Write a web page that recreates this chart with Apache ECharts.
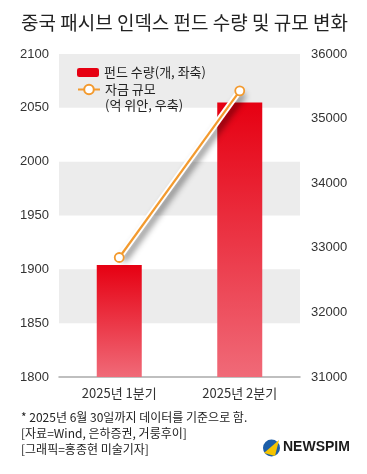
<!DOCTYPE html>
<html><head><meta charset="utf-8">
<script src="https://cdn.jsdelivr.net/npm/echarts@6/dist/echarts.min.js"></script>
<style>html,body{margin:0;padding:0;background:#fff}#c{width:367px;height:474px}</style>
</head><body><div id="c"></div>
<script>
const categories = ['2025년 1분기', '2025년 2분기'];
const fundCount = [1904, 2055];
const fundSize = [32850, 35430];
const leftTicks = [1800, 2100, 50];
const rightTicks = [31000, 36000, 1000];
const titleText = '중국 패시브 인덱스 펀드 수량 및 규모 변화';
const notes = ['* 2025년 6월 30일까지 데이터를 기준으로 함.', '[자료=Wind, 은하증권, 거룽후이]', '[그래픽=홍종현 미술기자]'];

const FONT = '"Noto Sans CJK KR", "Noto Sans", sans-serif';
const NUMFONT = '"Liberation Sans Narrow", "Liberation Sans", sans-serif';
const chart = echarts.init(document.getElementById('c'), null, {renderer: 'canvas'});
const orange = '#f39a2e';
chart.setOption({
  animation: false,
  textStyle: {fontFamily: FONT},
  grid: {left: 59, right: 67, top: 54, bottom: 97},
  legend: [{
    data: [{name: '펀드 수량(개, 좌축)', itemStyle: {color: '#e60012'}}], left: 77, top: 66, itemWidth: 22, itemHeight: 9,
    textStyle: {fontSize: 13, color: '#222', fontFamily: FONT}, padding: 0
  }, {
    data: ['자금 규모'], left: 77, top: 83, itemWidth: 22, itemHeight: 12,
    textStyle: {fontSize: 13, color: '#222', fontFamily: FONT}, padding: 0
  }],
  xAxis: {
    type: 'category', data: categories,
    axisLine: {lineStyle: {color: '#aaa', width: 1.5}},
    axisTick: {inside: true, length: 6, lineStyle: {color: '#aaa'}},
    axisLabel: {fontSize: 13, color: '#333', margin: 10, fontFamily: FONT}
  },
  yAxis: [{
    type: 'value', min: leftTicks[0], max: leftTicks[1], interval: leftTicks[2],
    axisLine: {show: false}, axisTick: {show: false}, splitLine: {show: false},
    splitArea: {show: true, areaStyle: {color: ['rgba(0,0,0,0)', '#ececec']}},
    axisLabel: {fontSize: 13, color: '#333', margin: 10, fontFamily: NUMFONT, formatter: v => String(v)}
  }, {
    type: 'value', min: rightTicks[0], max: rightTicks[1], interval: rightTicks[2],
    axisLine: {show: false}, axisTick: {show: false}, splitLine: {show: false},
    axisLabel: {fontSize: 13, color: '#333', margin: 11, fontFamily: NUMFONT, formatter: v => String(v)}
  }],
  series: [{
    name: '펀드 수량(개, 좌축)', type: 'bar', data: fundCount, barWidth: 45, yAxisIndex: 0,
    itemStyle: {color: new echarts.graphic.LinearGradient(0, 0, 0, 1, [
      {offset: 0, color: '#e60012'}, {offset: 1, color: '#f06a78'}])}
  }, {
    name: 'outline', type: 'line', data: fundSize, yAxisIndex: 1, symbol: 'none', silent: true,
    lineStyle: {color: '#fff', width: 6, shadowColor: 'rgba(0,0,0,0.45)', shadowBlur: 6, shadowOffsetX: 4, shadowOffsetY: 3}
  }, {
    name: '자금 규모', type: 'line', data: fundSize, yAxisIndex: 1,
    symbol: 'circle', symbolSize: 9,
    lineStyle: {color: orange, width: 2.2},
    itemStyle: {color: '#fff', borderColor: orange, borderWidth: 1.8}
  }],
  graphic: [
    {type: 'text', z: 100, left: 21, top: 13, style: {text: titleText, font: '19px ' + FONT, fill: '#222'}},
    {type: 'text', z: 100, left: 105, top: 99, style: {text: '(억 위안, 우축)', font: '13px ' + FONT, fill: '#222'}},
    {type: 'text', z: 100, left: 21, top: 411, style: {text: notes[0], font: '12px ' + FONT, fill: '#222'}},
    {type: 'text', z: 100, left: 21, top: 427, style: {text: notes[1], font: '12px ' + FONT, fill: '#222'}},
    {type: 'text', z: 100, left: 21, top: 443, style: {text: notes[2], font: '12px ' + FONT, fill: '#222'}},
    {type: 'circle', z: 100, shape: {cx: 271.5, cy: 448, r: 8.5}, style: {fill: '#1d5fa8'}},
    {type: 'polygon', z: 101, shape: {points: [[264, 453], [279, 440], [275, 456]]}, style: {fill: '#f5c400'}},
    {type: 'text', z: 100, left: 283, top: 440, style: {text: 'NEWSPIM', font: 'bold 14px "Liberation Sans", sans-serif', fill: '#1a1a1a'}}
  ]
});
</script></body></html>
